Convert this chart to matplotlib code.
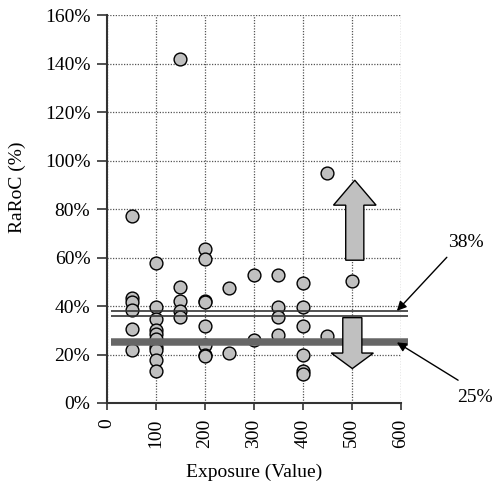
import matplotlib
matplotlib.use("Agg")
import matplotlib.pyplot as plt
from matplotlib.patches import Polygon

plt.rcParams['font.family'] = ['Liberation Serif', 'DejaVu Serif']

# Exposure and RaRoC of individual deals
exposure = ([50] * 6 + [100] * 10 + [150] * 5 + [200] * 8 + [250] * 2 +
            [300] * 2 + [350] * 4 + [400] * 6 + [450] * 2 + [500] * 1)
raroc = [77.2, 43.2, 41.7, 38.3, 30.4, 22.0,
         57.9, 39.6, 34.6, 30.0, 28.6, 26.3, 23.3, 22.0, 17.9, 13.0,
         141.8, 47.9, 42.0, 38.0, 35.5,
         63.4, 59.3, 42.0, 41.5, 31.7, 23.8, 19.7, 19.2,
         47.5, 20.6,
         53.0, 25.9,
         53.0, 39.6, 35.5, 27.9,
         49.5, 39.4, 31.8, 19.8, 13.3, 12.1,
         94.9, 27.7,
         50.4]

# Reference levels
upper_band = [38.0, 35.8]   # thin lines, labelled 38%
hurdle = 25.0               # thick bar, labelled 25%
level_span = [8, 614]

x_ticks = [0, 100, 200, 300, 400, 500, 600]
y_ticks = [0, 20, 40, 60, 80, 100, 120, 140, 160]
y_tick_labels = [f"{v}%" for v in y_ticks]

fig = plt.figure(figsize=(4.95, 4.87), dpi=100)
ax = fig.add_axes([0.2162, 0.1725, 0.5935, 0.7965])

ax.set_xlim(0, 600)
ax.set_ylim(0, 160)
ax.set_xticks(x_ticks)
ax.set_xticklabels([str(v) for v in x_ticks], rotation=90)
ax.set_yticks(y_ticks)
ax.set_yticklabels(y_tick_labels)

ax.grid(True, linestyle=(0, (1, 1.2)), color='#555555', linewidth=0.9)
ax.set_axisbelow(True)
for side in ('top', 'right'):
    ax.spines[side].set_visible(False)
for side in ('left', 'bottom'):
    ax.spines[side].set_color('#333333')
    ax.spines[side].set_linewidth(1.5)

ax.tick_params(axis='y', direction='out', length=7, width=1.2, pad=5,
               labelsize=14, color='#333333')
ax.tick_params(axis='x', direction='out', length=5, width=1.2, pad=6,
               labelsize=14, color='#333333')

ax.scatter(exposure, raroc, s=85, facecolor='#c0c0c0', edgecolor='black',
           linewidth=1.0, zorder=3, clip_on=False)

for lvl in upper_band:
    ax.plot(level_span, [lvl, lvl], color='#333333', linewidth=1.2,
            zorder=4, clip_on=False, solid_capstyle='butt')
ax.plot(level_span, [hurdle, hurdle], color='#666666', linewidth=5.4,
        zorder=4, clip_on=False, solid_capstyle='butt')


def block_arrow(xc, y_tail, y_neck, y_tip, shaft_half, head_half):
    pts = [(xc - shaft_half, y_tail), (xc + shaft_half, y_tail),
           (xc + shaft_half, y_neck), (xc + head_half, y_neck),
           (xc, y_tip), (xc - head_half, y_neck),
           (xc - shaft_half, y_neck)]
    ax.add_patch(Polygon(pts, closed=True, facecolor='#c0c0c0',
                         edgecolor='black', linewidth=1.0, zorder=5,
                         clip_on=False))


block_arrow(506, 58.9, 81.6, 91.9, 18.5, 43.5)
block_arrow(501, 35.2, 20.6, 14.2, 19.5, 43.0)

arrow_kw = dict(arrowstyle='-|>', color='black', lw=1.0, mutation_scale=14,
                shrinkA=0, shrinkB=0)
ax.text(733, 66.3, f"{upper_band[0]:.0f}%", fontsize=14, ha='center',
        va='center', clip_on=False)
ax.annotate("", xy=(592, upper_band[0]), xytext=(694, 60.1),
            arrowprops=arrow_kw, annotation_clip=False, zorder=6)
ax.text(752, 2.3, f"{hurdle:.0f}%", fontsize=14, ha='center',
        va='center', clip_on=False)
ax.annotate("", xy=(592, hurdle), xytext=(717, 9.4),
            arrowprops=arrow_kw, annotation_clip=False, zorder=6)

ax.set_xlabel("Exposure (Value)", fontsize=14)
ax.set_ylabel("RaRoC (%)", fontsize=14)
ax.xaxis.set_label_coords(0.5, -0.178)
ax.xaxis.label.set_va('center')
ax.yaxis.set_label_coords(-0.304, 0.557)
ax.yaxis.label.set_va('center')

fig.savefig("out.png", dpi=100)
